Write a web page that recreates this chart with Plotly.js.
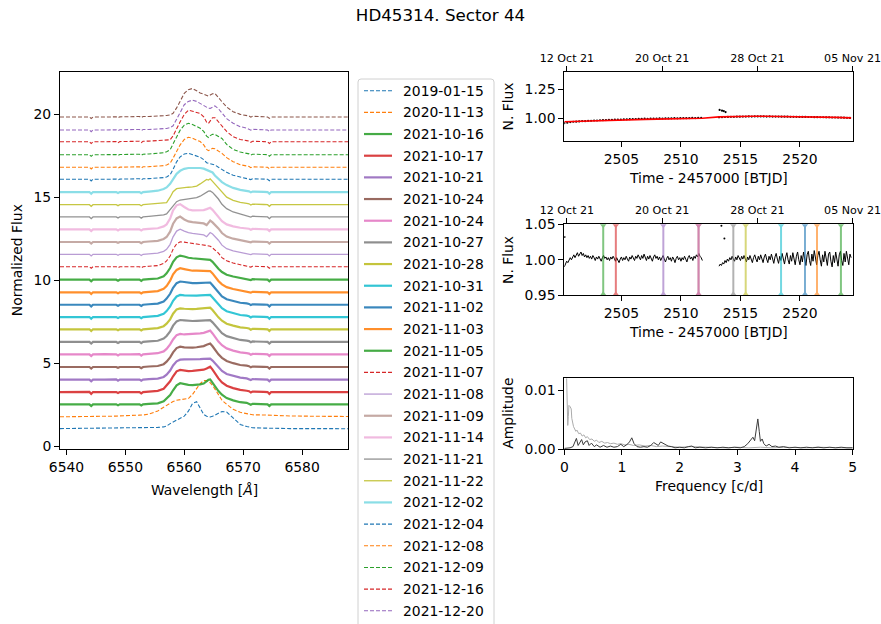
<!DOCTYPE html>
<html><head><meta charset="utf-8">
<script src="https://cdn.plot.ly/plotly-3.0.1.min.js"></script>
<style>html,body{margin:0;padding:0;background:#fff}#chart{width:881px;height:624px}</style>
</head><body><div id="chart"></div>
<script>
// ---------------- DATA ----------------
const dates = ['2019-01-15','2020-11-13','2021-10-16','2021-10-17','2021-10-21','2021-10-24','2021-10-24','2021-10-27','2021-10-28','2021-10-31','2021-11-02','2021-11-03','2021-11-05','2021-11-07','2021-11-08','2021-11-09','2021-11-14','2021-11-21','2021-11-22','2021-12-02','2021-12-04','2021-12-08','2021-12-09','2021-12-16','2021-12-20','2021-12-27'];
// vertical offset of each spectrum (normalized flux)
const offsets = [1.05,1.76,2.51,3.25,4.00,4.76,5.52,6.27,7.03,7.77,8.51,9.26,10.02,10.80,11.55,12.29,13.05,13.80,14.54,15.30,16.07,16.79,17.55,18.33,19.04,19.82];
// wavelength grid [A]
const wave = [6538.9,6541.5,6543.9,6544.2,6544.5,6546.5,6548.45,6548.75,6549.05,6550.8,6552.4,6552.7,6553.0,
  6554.0,6555.5,6556.5,6557.0,6557.6,6558.1,6558.7,6559.3,6560.0,6560.7,6561.4,6562.1,6562.7,6563.3,6563.8,6564.1,6564.4,6564.8,6565.2,6565.8,6566.4,6567.2,6568.3,6569.5,6570.6,
  6571.0,6571.3,6571.6,6573.5,6574.15,6574.45,6574.75,6578.0,6583.0,6587.8];
// relative flux above each offset, in units of 0.01
const p00 = [0,1,1,0,1,2,2,1,3,4,5,4,5, 5,7,10,15,30,40,52,60,75,105,152,162,120,85,74,70,70,74,82,95,103,100,65,25,12, 8,6,5,3,2,2,1,0,0,-1];
const p01 = [0,0,1,2,1,3,4,5,5,8,10,10,11, 16,35,58,70,82,92,100,104,106,110,135,170,200,218,218,212,205,190,168,130,100,75,45,27,18, 14,12,12,11,10,9,8,5,3,2];
const p02 = [0,0,0,-10,0,0,0,-6,0,0,0,-7,0, 3,6,18,33,56,85,115,127,120,117,116,117,120,125,138,148,150,130,108,80,58,38,24,13,9, 5,-2,3,1,0,-10,0,0,0,0];
const p03 = [0,0,1,-11,0,0,0,-6,0,0,0,-8,0, 3,7,20,38,65,95,125,133,128,126,128,130,132,135,142,150,153,135,112,82,58,38,24,13,8, 5,-3,3,1,0,-11,0,0,0,0];
const p04 = [0,0,0,-10,0,0,1,-6,0,0,0,-7,0, 3,6,16,30,55,85,110,120,122,122,120,121,123,125,127,128,126,115,98,72,52,34,22,12,7, 4,-2,3,1,0,-10,0,0,0,0];
const p05 = [0,0,0,-9,0,0,0,-5,0,0,0,-7,0, 3,6,17,32,58,88,114,122,118,116,117,119,122,126,134,140,142,125,104,76,55,36,23,12,8, 5,-2,3,1,0,-9,0,0,0,0];
const p06 = [0,0,0,-10,0,1,0,-6,0,0,1,-7,0, 3,7,18,33,60,90,116,123,120,121,124,125,127,130,138,142,143,126,105,77,55,36,23,12,8, 5,-2,3,1,0,-10,0,0,0,0];
const p07 = [0,0,0,-10,0,0,0,-6,0,0,0,-7,0, 3,7,20,36,64,98,124,132,130,127,126,127,128,130,133,133,131,118,100,74,53,35,22,12,8, 5,-2,3,1,0,-10,0,0,0,0];
const p08 = [0,0,0,-10,0,0,0,-6,0,0,0,-7,0, 3,7,19,34,60,94,120,126,124,122,122,123,125,127,129,131,130,116,98,72,52,34,22,12,8, 5,-2,3,1,0,-10,0,0,0,0];
const p09 = [0,0,0,-10,0,0,0,-6,0,0,0,-7,0, 3,7,20,36,64,98,124,133,131,129,128,129,130,132,134,135,133,118,100,74,53,35,22,12,8, 5,-2,3,1,0,-10,0,0,0,0];
const p10 = [0,0,0,-10,0,0,0,-6,0,0,0,-7,0, 3,7,20,37,66,102,130,140,137,132,130,130,131,133,136,137,134,118,100,72,50,33,21,12,8, 5,-2,3,1,0,-10,0,0,0,0];
const p11 = [0,0,0,-10,0,0,0,-6,0,0,0,-7,0, 3,7,21,38,70,108,135,145,140,133,130,130,130,131,132,131,128,114,95,68,48,31,20,11,7, 4,-2,3,1,0,-10,0,0,0,0];
const p12 = [0,0,0,-10,0,0,0,-6,0,0,0,-7,0, 3,7,21,38,70,108,135,145,140,132,129,127,125,123,122,121,119,108,90,66,46,30,19,11,7, 4,-2,3,1,0,-10,0,0,0,0];
const p13 = [0,0,0,-9,0,0,0,-6,0,0,0,-7,0, 3,7,20,35,65,105,138,150,148,143,140,137,134,131,128,126,124,113,100,82,55,36,22,12,7, 4,-2,3,1,0,-9,0,0,0,0];
const p14 = [0,0,0,-10,0,0,0,-6,0,0,0,-7,0, 3,7,18,30,60,105,140,151,140,130,126,124,122,117,106,120,131,122,108,85,55,34,20,11,7, 4,-2,3,1,0,-10,0,0,0,0];
const p15 = [0,0,0,-9,0,0,0,-5,0,0,0,-7,0, 3,7,18,30,62,110,142,153,136,124,120,118,116,112,102,118,129,118,104,82,54,33,20,11,7, 4,-2,3,1,0,-9,0,0,0,0];
const p16 = [0,0,0,-10,0,0,0,-6,0,0,0,-7,0, 3,7,18,30,65,115,145,152,135,120,115,114,114,116,122,126,130,118,102,78,50,30,18,10,6, 4,-2,3,1,0,-10,0,0,0,0];
const p17 = [0,0,0,-10,0,0,0,-6,0,0,0,-7,0, 3,6,12,18,45,72,92,102,106,108,111,116,125,140,150,155,157,148,132,108,76,50,30,18,10, 6,-1,4,1,0,-10,0,0,0,0];
const p18 = [0,0,0,-10,0,0,0,-6,0,0,0,-7,0, 3,6,9,12,45,78,96,100,103,105,107,112,125,142,152,148,156,140,124,98,72,45,26,14,8, 5,-2,3,1,0,-10,0,0,0,0];
const p19 = [0,0,0,-10,0,0,0,-6,0,0,0,-7,0, 3,8,18,28,50,80,110,128,140,145,146,146,145,141,134,126,124,118,100,80,60,42,25,13,7, 4,-2,3,1,0,-10,0,0,0,0];
const p20 = [0,0,0,-10,0,0,1,-5,1,2,3,-4,3, 4,6,10,14,26,60,105,135,152,157,150,140,133,118,100,96,92,88,86,72,58,42,24,14,8, 5,-2,3,1,0,-9,0,0,0,0];
const p21 = [0,0,0,-10,0,0,1,-5,1,2,3,-4,3, 4,6,10,14,24,55,94,135,168,181,175,165,155,135,108,100,108,114,112,98,84,58,34,16,8, 5,-2,3,1,0,-9,0,0,0,0];
const p22 = [0,0,0,-10,0,0,1,-5,1,2,3,-4,3, 4,7,12,18,30,65,108,148,178,189,182,170,159,140,112,104,115,123,122,110,98,62,32,16,9, 5,-2,3,1,0,-9,0,0,0,0];
const p23 = [0,0,0,-11,0,0,1,-7,1,2,3,-5,3, 4,6,8,8,12,35,80,120,165,190,184,176,170,150,118,110,128,145,145,120,100,62,30,14,7, 4,-3,3,1,0,-11,0,0,0,0];
const p24 = [0,0,0,-10,0,0,1,-5,1,2,3,-4,3, 3,5,7,9,14,25,65,110,152,172,180,172,160,148,136,131,130,140,145,128,100,68,40,20,11, 6,-1,4,1,0,-9,0,0,0,0];
const p25 = [0,0,0,-9,0,0,1,-5,1,2,3,-4,3, 3,5,7,9,13,22,55,92,142,165,172,158,145,138,130,126,132,140,142,120,92,60,32,16,10, 6,-1,4,2,0,-8,0,0,0,0];
const profiles = [p00,p01,p02,p03,p04,p05,p06,p07,p08,p09,p10,p11,p12,p13,p14,p15,p16,p17,p18,p19,p20,p21,p22,p23,p24,p25];

// TESS light curve (raw) sampled every 0.25 d; values = (flux-1)*1000
const rawStart1 = 2500.2, rawStart2 = 2513.2, rawStep = 0.25;
const raw1 = [-42,-38,-33,-30,-29,-27,-25,-25,-22,-21,-19,-19,-17,-16,-15,-14,-13,-12,-11,-11,-9,-9,-8,-6,-6,-5,-5,-3,-4,-2,-3,-2,-1,-2,0,-1,0,1,0,1,2,1,2,3,2,4,3];
const raw2 = [8,10,11,12,13,13,14,14,15,15,16,15,16,16,16,16,15,16,15,15,15,14,14,14,13,13,13,12,12,12,11,11,10,10,9,9,8,8,7,7,6,6,5,4,3];
const rawOutT = [2513.25,2513.45,2513.6,2513.75];
const rawOutF = [1.072,1.066,1.062,1.054];
// trend (red)
const trendT = [2500.2,2501,2502,2503,2504,2505,2506,2507,2508,2509,2510,2511,2511.8,2513.2,2514,2515,2516,2517,2518,2519,2520,2521,2522,2523,2524.3];
const trendF = [0.970,0.973,0.977,0.980,0.983,0.986,0.989,0.991,0.993,0.995,0.997,0.999,1.001,1.012,1.015,1.017,1.018,1.018,1.017,1.016,1.015,1.013,1.011,1.008,1.004];
// detrended flux sampled every 0.1 d; values = (flux-1)*1000
const detStart1 = 2500.2, detStart2 = 2513.2, detStep = 0.1;
const det1 = [-10,-6,-2,-4,1,3,0,4,7,3, 6,10,5,8,11,6,9,4,7,3, 6,2,5,1,6,3,-1,4,1,5, 2,-2,3,6,2,4,0,3,-1,4,
  1,5,2,-2,3,0,-4,1,4,-1, 3,0,5,1,-2,4,1,6,2,-1, 5,2,7,3,0,6,2,8,3,-1, 5,1,6,2,-2,4,7,2,5,0,
  4,-1,3,6,1,-3,2,5,0,3, -2,4,1,-4,2,5,0,3,-2,3, 0,5,1,-3,3,6,1,4,-1,5, 2,7,4,9,5,3,-1];
const det2 = [-9,-6,-8,-4,-6,-1,-4,1,-2,3, 0,5,1,-2,4,0,6,2,-1,5, 1,6,2,-3,4,0,6,1,-4,3, 7,1,-3,5,0,7,2,-4,4,8,
  1,-4,5,0,8,2,-5,4,9,1, -5,5,-1,9,2,-6,4,10,0,-6, 6,-2,10,3,-7,5,11,0,-7,6, -3,11,2,-8,7,12,-1,-8,8,-2,
  13,4,-7,6,12,0,-9,7,-3,12, 2,-8,8,11,-2,-10,6,-4,11,1, -9,7,12,-1,-8,9,-3,12,2,-7, 8,3];
const detOutT = [2500.22,2513.4,2513.65];
const detOutF = [1.032,1.048,1.030];
// spectra taken during the sector
const obsIndex = [2,3,4,5,6,7,8,9,10,11,12];
const obsTimes = [2503.47,2504.53,2508.52,2511.48,2511.48,2514.40,2515.44,2518.41,2520.42,2521.43,2523.44];
// calendar ticks on top axes
const dateTickPos = [2500.42,2508.42,2516.42,2524.42];
const dateTickText = ['12 Oct 21','20 Oct 21','28 Oct 21','05 Nov 21'];
// periodograms
const fLight = [0.00,0.02,0.04,0.05,0.06,0.07,0.08,0.10,0.12,0.13,0.145,0.16,0.18,0.20,0.22,0.25,0.28,0.31,0.34,0.37,0.40,0.44,0.48,0.52,0.56,0.60,0.65,0.70,0.75,0.80,0.86,0.92,0.98,1.05,1.12,1.20,1.30,1.40,1.50,1.60,1.70,1.80,1.90,2.00,2.20,2.40,2.60,2.80,3.00,3.20,3.40,3.60,3.80,4.00,4.20,4.40,4.60,4.80,5.00];
const aLight = [0.0140,0.0135,0.0120,0.0060,0.0040,0.0055,0.0074,0.0072,0.0068,0.0052,0.0040,0.0038,0.0034,0.0030,0.0032,0.0026,0.0027,0.0022,0.0024,0.0019,0.0021,0.0016,0.0017,0.0013,0.0015,0.0011,0.0013,0.0010,0.0011,0.0009,0.0010,0.0008,0.0009,0.0007,0.0008,0.0006,0.0007,0.0005,0.0006,0.0004,0.0005,0.0004,0.0004,0.0003,0.0004,0.0003,0.0003,0.0002,0.0003,0.0002,0.0003,0.0002,0.0003,0.0002,0.0002,0.0003,0.0002,0.0002,0.0002];
const fDark = [0.00,0.05,0.10,0.15,0.18,0.21,0.24,0.27,0.30,0.33,0.36,0.40,0.43,0.47,0.52,0.56,0.62,0.68,0.74,0.80,0.86,0.92,0.98,1.03,1.08,1.13,1.17,1.21,1.26,1.32,1.38,1.44,1.50,1.55,1.59,1.63,1.67,1.71,1.76,1.80,1.86,1.92,2.00,2.08,2.15,2.21,2.27,2.35,2.45,2.55,2.65,2.75,2.85,2.95,3.05,3.12,3.18,3.23,3.27,3.30,3.33,3.355,3.38,3.40,3.43,3.46,3.50,3.55,3.60,3.66,3.72,3.80,3.90,4.00,4.10,4.20,4.30,4.40,4.50,4.60,4.70,4.80,4.90,5.00];
const aDark = [0.0001,0.0001,0.0002,0.0004,0.0012,0.0018,0.0006,0.0010,0.0016,0.0007,0.0012,0.0014,0.0006,0.0010,0.0004,0.0007,0.0003,0.0006,0.0003,0.0005,0.0003,0.0004,0.0008,0.0004,0.0007,0.0012,0.0019,0.0009,0.0004,0.0003,0.0004,0.0003,0.0006,0.0011,0.0008,0.0006,0.0012,0.0010,0.0008,0.0005,0.0004,0.0002,0.0003,0.0002,0.0004,0.0005,0.0002,0.0003,0.0002,0.0003,0.0002,0.0003,0.0002,0.0003,0.0002,0.0004,0.0009,0.0016,0.0020,0.0014,0.0035,0.0051,0.0030,0.0013,0.0017,0.0009,0.0005,0.0008,0.0004,0.0005,0.0003,0.0004,0.0002,0.0003,0.0002,0.0003,0.0002,0.0003,0.0002,0.0003,0.0002,0.0003,0.0002,0.0002];

// ---------------- STYLE / LAYOUT ----------------
const W = 881, H = 624;
const px = x => x / W, py = y => 1 - y / H;
const FONT = 'DejaVu Sans, Verdana, sans-serif';
const tab10 = ['#1f77b4','#ff7f0e','#2ca02c','#d62728','#9467bd','#8c564b','#e377c2','#7f7f7f','#bcbd22','#17becf'];
const dashedSet = new Set([0,1,13,20,21,22,23,24,25]);
const thinSet = new Set([14,17,18]);
const lightThickSet = new Set([15,16,19]);
function styleFor(i) {
  const color = tab10[i % 10];
  if (dashedSet.has(i)) return {color, width: 1.1, dash: '4px,2px', opacity: 1};
  if (thinSet.has(i)) return {color, width: 1.3, dash: 'solid', opacity: i === 14 ? 0.65 : 0.85};
  if (lightThickSet.has(i)) return {color, width: 2.2, dash: 'solid', opacity: 0.5};
  return {color, width: 2.2, dash: 'solid', opacity: 0.88};
}

const data = [];
// spectra
profiles.forEach((p, i) => {
  const s = styleFor(i);
  data.push({type: 'scatter', mode: 'lines', x: wave, y: p.map(v => offsets[i] + v / 100),
    xaxis: 'x', yaxis: 'y', line: {color: s.color, width: s.width, dash: s.dash}, opacity: s.opacity,
    hoverinfo: 'skip', showlegend: false});
});
// panel 1 raw points
const rawT = raw1.map((_, k) => rawStart1 + k * rawStep).concat(raw2.map((_, k) => rawStart2 + k * rawStep));
const rawF = raw1.concat(raw2).map(v => 1 + v / 1000);
data.push({type: 'scatter', mode: 'markers', x: rawT.concat(rawOutT), y: rawF.concat(rawOutF), xaxis: 'x2', yaxis: 'y2',
  marker: {color: 'black', size: 2.2}, hoverinfo: 'skip', showlegend: false});
// panel 1 trend on the overlay (top date axis shares the same range)
data.push({type: 'scatter', mode: 'lines', x: trendT, y: trendF, xaxis: 'x4', yaxis: 'y2',
  line: {color: '#ff0000', width: 1.6}, hoverinfo: 'skip', showlegend: false});
// panel 2 detrended curve
const detT = det1.map((_, k) => detStart1 + k * detStep).concat([null]).concat(det2.map((_, k) => detStart2 + k * detStep));
const detF = det1.map(v => 1 + v / 1000).concat([null]).concat(det2.map(v => 1 + v / 1000));
data.push({type: 'scatter', mode: 'lines', x: detT, y: detF, xaxis: 'x3', yaxis: 'y3', connectgaps: false,
  line: {color: 'black', width: 1}, hoverinfo: 'skip', showlegend: false});
data.push({type: 'scatter', mode: 'markers', x: detOutT, y: detOutF, xaxis: 'x3', yaxis: 'y3',
  marker: {color: 'black', size: 2}, hoverinfo: 'skip', showlegend: false});
// panel 2 spectrum epochs
obsIndex.forEach((idx, k) => {
  const c = tab10[idx % 10];
  data.push({type: 'scatter', mode: 'lines+markers', x: [obsTimes[k], obsTimes[k]], y: [0.95, 1.05],
    xaxis: 'x5', yaxis: 'y3', line: {color: c, width: 2}, opacity: 0.6,
    marker: {color: c, size: 8, symbol: ['triangle-up', 'triangle-down']}, hoverinfo: 'skip', showlegend: false});
});
// panel 3 periodograms
data.push({type: 'scatter', mode: 'lines', x: fLight, y: aLight, xaxis: 'x6', yaxis: 'y4',
  line: {color: '#ababab', width: 1}, hoverinfo: 'skip', showlegend: false});
data.push({type: 'scatter', mode: 'lines', x: fDark, y: aDark, xaxis: 'x6', yaxis: 'y4',
  line: {color: '#3c3c3c', width: 1}, hoverinfo: 'skip', showlegend: false});

const axBase = {showline: true, linecolor: 'black', linewidth: 1, mirror: true, ticks: 'outside', ticklen: 5,
  tickwidth: 1, tickcolor: 'black', showgrid: false, zeroline: false, fixedrange: true,
  tickfont: {family: FONT, size: 13.9, color: 'black'}};
const rDom = [px(564.3), px(852.7)];
const tRange = [2500.2, 2524.43];
const dateFont = {family: FONT, size: 11.1, color: 'black'};

const layout = {
  width: W, height: H, margin: {l: 0, r: 0, t: 0, b: 0}, showlegend: false,
  paper_bgcolor: 'white', plot_bgcolor: 'white',
  font: {family: FONT, color: 'black'},
  title: {text: 'HD45314. Sector 44', font: {family: FONT, size: 16.7, color: 'black'},
    x: 0.5, xref: 'container', xanchor: 'center', y: 1 - 15.5 / H, yref: 'container', yanchor: 'middle'},
  xaxis: Object.assign({}, axBase, {domain: [px(60), px(348)], range: [6538.9, 6587.8], anchor: 'y', tickvals: [6540,6550,6560,6570,6580]}),
  yaxis: Object.assign({}, axBase, {domain: [py(449), py(71.7)], range: [-0.18, 22.55], anchor: 'x', tickvals: [0,5,10,15,20]}),
  xaxis2: Object.assign({}, axBase, {domain: rDom, range: tRange, anchor: 'y2', tickvals: [2505,2510,2515,2520]}),
  yaxis2: Object.assign({}, axBase, {domain: [py(141), py(72.3)], range: [0.804, 1.397], anchor: 'x2', tickvals: [1.0, 1.25], tickformat: '.2f'}),
  xaxis3: Object.assign({}, axBase, {domain: rDom, range: tRange, anchor: 'y3', tickvals: [2505,2510,2515,2520]}),
  yaxis3: Object.assign({}, axBase, {domain: [py(295.3), py(224.3)], range: [0.95, 1.05], anchor: 'x3', tickvals: [0.95, 1.0, 1.05], tickformat: '.2f'}),
  xaxis4: Object.assign({}, axBase, {mirror: false, overlaying: 'x2', side: 'top', anchor: 'y2', domain: rDom, range: tRange,
    tickvals: dateTickPos, ticktext: dateTickText, tickfont: dateFont, ticklabeloverflow: 'allow'}),
  xaxis5: Object.assign({}, axBase, {mirror: false, overlaying: 'x3', side: 'top', anchor: 'y3', domain: rDom, range: tRange,
    tickvals: dateTickPos, ticktext: dateTickText, tickfont: dateFont, ticklabeloverflow: 'allow'}),
  xaxis6: Object.assign({}, axBase, {domain: rDom, range: [0, 5], anchor: 'y4', tickvals: [0,1,2,3,4,5]}),
  yaxis4: Object.assign({}, axBase, {domain: [py(449), py(378.3)], range: [0, 0.012], anchor: 'x6', tickvals: [0, 0.01], tickformat: '.2f'}),
  shapes: [], annotations: []
};

function label(text, x, y, angle, size) {
  layout.annotations.push({text, x: px(x), y: py(y), xref: 'paper', yref: 'paper', xanchor: 'center', yanchor: 'middle',
    showarrow: false, textangle: angle || 0, font: {family: FONT, size: size || 13.9, color: 'black'}});
}
label('Normalized Flux', 16.7, 260.5, -90);
label('Wavelength [<i>Å</i>]', 204, 490);
label('N. Flux', 508, 106.5, -90);
label('Time - 2457000 [BTJD]', 708.5, 178);
label('N. Flux', 508, 260, -90);
label('Time - 2457000 [BTJD]', 708.5, 332.3);
label('Amplitude', 508, 413.7, -90);
label('Frequency [c/d]', 708.5, 485.5);

// legend (matplotlib-like frame); entries below the figure edge are not drawn
const P = (x, y) => `${px(x)},${py(y)}`;
layout.shapes.push({type: 'path', xref: 'paper', yref: 'paper', layer: 'above',
  path: `M ${P(358,82)} Q ${P(358,79)} ${P(361,79)} L ${P(491,79)} Q ${P(494,79)} ${P(494,82)} L ${P(494,660)} L ${P(358,660)} Z`,
  fillcolor: 'rgba(255,255,255,0.85)', line: {color: '#d0d0d0', width: 1}});
dates.forEach((d, i) => {
  const y = 90.7 + 21.67 * i;
  if (y + 8 > H) return;
  const s = styleFor(i);
  layout.shapes.push({type: 'line', xref: 'paper', yref: 'paper', layer: 'above', x0: px(364), x1: px(392), y0: py(y), y1: py(y),
    line: {color: s.color, width: s.width, dash: s.dash}, opacity: s.opacity});
  layout.annotations.push({text: d, x: px(401), y: py(y), xref: 'paper', yref: 'paper', xanchor: 'left', yanchor: 'middle',
    showarrow: false, font: {family: FONT, size: 13.9, color: 'black'}});
});

Plotly.newPlot('chart', data, layout, {displayModeBar: false, staticPlot: true});
</script></body></html>
